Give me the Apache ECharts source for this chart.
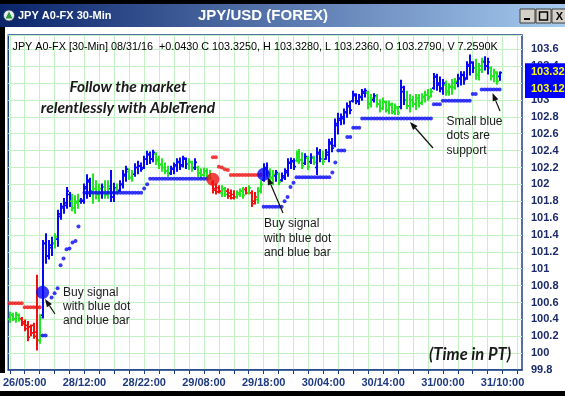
<!DOCTYPE html>
<html><head><meta charset="utf-8">
<script src="https://cdn.jsdelivr.net/npm/echarts@6/dist/echarts.min.js"></script>
<style>html,body{margin:0;padding:0;background:#fff;}#c{width:565px;height:396px;}</style>
</head><body><div id="c"></div>
<script>
// ---------- DATA ----------
const tickLabels = ['26/05:00','28/12:00','28/22:00','29/08:00','29/18:00','30/04:00','30/14:00','31/00:00','31/10:00'];
const tickLabelIndex = [5,25,45,65,85,105,125,145,165];
const slotCount = 172;

const opens = [100.40,100.45,100.40,100.45,100.41,100.37,100.33,100.31,100.33,100.25,
100.15,100.45,101.30,101.15,101.25,101.30,101.35,101.62,101.72,101.75,
101.88,101.80,101.72,101.78,101.80,101.80,101.95,102.03,101.92,101.95,
101.88,101.90,101.97,101.88,101.95,101.85,101.95,101.93,102.00,102.10,
102.15,102.08,102.12,102.20,102.22,102.20,102.30,102.35,102.30,102.36,
102.30,102.24,102.20,102.16,102.13,102.18,102.22,102.26,102.23,102.30,
102.24,102.26,102.20,102.20,102.14,102.11,102.15,102.10,102.02,101.95,
101.96,101.90,101.94,101.92,101.90,101.88,101.85,101.88,101.92,101.94,
101.90,101.90,101.80,101.82,101.92,102.05,102.18,102.14,102.08,102.10,
102.12,102.05,102.08,102.14,102.25,102.27,102.28,102.36,102.29,102.25,
102.31,102.27,102.31,102.20,102.36,102.30,102.30,102.35,102.48,102.46,
102.70,102.76,102.78,102.85,102.92,102.99,103.05,102.98,103.03,103.08,
103.08,102.96,103.00,103.04,102.95,102.90,102.97,102.88,102.94,102.86,
102.90,102.92,103.10,103.00,102.93,103.00,102.95,103.02,102.97,103.03,
103.06,103.04,103.14,103.27,103.20,103.14,103.18,103.10,103.15,103.15,
103.20,103.25,103.29,103.26,103.40,103.44,103.38,103.30,103.36,103.45,
103.40,103.38,103.28,103.32,103.279];
const highs = [100.48,100.47,100.48,100.46,100.42,100.39,100.37,100.33,100.35,100.92,
100.45,101.33,101.41,101.33,101.37,101.41,101.69,101.77,101.83,101.96,
101.90,101.88,101.86,101.88,101.83,102.00,102.11,102.07,102.12,102.04,
102.00,102.00,102.04,102.04,102.16,102.01,102.00,102.04,102.16,102.21,
102.18,102.16,102.24,102.27,102.25,102.33,102.39,102.38,102.40,102.37,
102.33,102.30,102.25,102.21,102.21,102.25,102.30,102.31,102.33,102.31,
102.30,102.27,102.30,102.21,102.18,102.19,102.18,102.16,102.04,102.00,
101.98,101.98,101.96,101.94,101.93,101.92,101.92,101.94,101.96,101.96,
101.98,101.92,101.90,101.96,102.04,102.24,102.25,102.18,102.16,102.16,
102.13,102.13,102.18,102.30,102.31,102.30,102.39,102.41,102.37,102.36,
102.33,102.36,102.33,102.43,102.41,102.39,102.41,102.53,102.54,102.77,
102.84,102.83,102.89,102.96,102.98,103.10,103.07,103.06,103.12,103.13,
103.10,103.06,103.07,103.06,103.00,103.02,102.98,102.98,102.96,102.95,
102.92,103.23,103.16,103.10,103.06,103.04,103.06,103.06,103.07,103.10,
103.12,103.13,103.31,103.30,103.27,103.24,103.22,103.19,103.24,103.25,
103.30,103.33,103.33,103.45,103.53,103.45,103.48,103.43,103.49,103.51,
103.49,103.39,103.36,103.33,103.328];
const lows = [100.37,100.39,100.37,100.38,100.33,100.27,100.15,100.21,100.18,100.04,
100.12,100.42,101.07,101.12,101.16,101.25,101.27,101.59,101.66,101.72,
101.74,101.69,101.66,101.72,101.78,101.78,101.84,101.86,101.78,101.83,
101.80,101.84,101.84,101.84,101.80,101.80,101.89,101.92,101.96,102.04,
102.06,102.04,102.10,102.13,102.16,102.19,102.24,102.25,102.27,102.24,
102.19,102.16,102.13,102.10,102.12,102.13,102.16,102.18,102.21,102.19,
102.18,102.16,102.18,102.10,102.08,102.10,102.07,102.06,101.90,101.89,
101.90,101.86,101.86,101.84,101.83,101.83,101.84,101.86,101.84,101.89,
101.89,101.74,101.77,101.78,101.90,102.04,102.10,102.04,102.00,102.04,
102.00,102.04,102.06,102.10,102.19,102.18,102.27,102.25,102.19,102.24,
102.18,102.25,102.24,102.12,102.27,102.24,102.30,102.27,102.39,102.45,
102.60,102.71,102.72,102.80,102.84,102.98,102.96,102.95,103.00,103.04,
102.90,102.92,102.98,102.92,102.86,102.89,102.86,102.84,102.84,102.83,
102.83,102.90,102.95,102.90,102.86,102.92,102.89,102.92,102.95,102.98,
103.00,103.04,103.13,103.12,103.10,103.07,103.06,103.06,103.07,103.13,
103.16,103.18,103.19,103.25,103.30,103.33,103.25,103.24,103.33,103.36,
103.31,103.24,103.22,103.19,103.236];
const closes = [100.45,100.41,100.46,100.40,100.35,100.29,100.19,100.24,100.20,100.15,
100.42,101.30,101.15,101.28,101.30,101.38,101.65,101.74,101.78,101.92,
101.80,101.72,101.80,101.82,101.81,101.97,102.05,101.92,101.95,101.88,
101.95,101.97,101.88,101.98,101.85,101.96,101.92,102.00,102.12,102.18,
102.08,102.12,102.20,102.22,102.18,102.30,102.36,102.30,102.38,102.28,
102.23,102.20,102.16,102.13,102.19,102.23,102.27,102.22,102.31,102.24,
102.27,102.19,102.26,102.13,102.11,102.16,102.09,102.07,101.93,101.91,
101.92,101.95,101.88,101.86,101.84,101.85,101.90,101.92,101.87,101.90,
101.96,101.77,101.85,101.93,102.00,102.20,102.14,102.08,102.12,102.14,
102.03,102.10,102.16,102.26,102.28,102.21,102.35,102.29,102.22,102.33,
102.21,102.32,102.26,102.38,102.30,102.27,102.38,102.50,102.43,102.72,
102.78,102.80,102.86,102.93,102.88,103.07,102.99,103.04,103.10,103.11,
102.95,103.02,103.05,102.95,102.90,102.98,102.88,102.95,102.86,102.92,
102.85,103.15,103.00,102.93,103.00,102.95,103.02,102.96,103.04,103.06,
103.02,103.10,103.28,103.18,103.13,103.20,103.10,103.16,103.20,103.22,
103.26,103.30,103.24,103.42,103.45,103.38,103.30,103.40,103.46,103.40,
103.45,103.28,103.33,103.22,103.325];
// trend colour per bar: g = neutral (green), r = down (red), b = up (blue)
const barTrend = ('gggg'+'rrrrrr'+'g'+'bbbb'+'g'+'bbbbb'+'ggg'+'bbbb'+'ggg'+'b'+'gg'+'bb'+'g'+'bbb'+'gg'+
  'bbbbbbb'+'ggggg'+'bbbbbb'+'gg'+'b'+'ggggg'+'rrr'+'gg'+'rrr'+'ggg'+'r'+'g'+'rr'+'gg'+'bb'+'gg'+'b'+'g'+
  'bbbbb'+'ggg'+'b'+'g'+'b'+'g'+'bb'+'g'+'bbbbbbbbbbbbbb'+'gg'+'b'+'gggggggg'+'bb'+'ggggggggg'+'bbbb'+
  'gggg'+'bbbbbb'+'ggg'+'bb'+'ggg'+'b').split('');

// small resistance (red) dots, one per bar, null = none
const redDots = [100.59,100.59,100.59,100.59,100.59,100.545,100.545,100.545,100.545,100.545,
100.545,null,null,null,null,null,null,null,null,null,
null,null,null,null,null,null,null,null,null,null,
null,null,null,null,null,null,null,null,null,null,
null,null,null,null,null,null,null,null,null,null,
null,null,null,null,null,null,null,null,null,null,
null,null,null,null,null,null,null,null,102.32,102.32,
102.21,102.20,102.18,102.17,102.11,102.11,102.11,102.11,102.11,102.11,
102.11,102.11,102.11,102.11,102.11];
// small support (blue) dots, one per bar, null = none
const blueDots = [null,null,null,null,null,null,null,null,null,null,
null,100.21,100.21,null,100.66,100.71,100.77,101.04,101.12,101.23,
101.24,101.31,101.33,101.50,null,101.90,101.90,101.90,101.90,101.90,
101.90,101.90,101.90,101.90,101.90,101.90,101.90,101.90,101.90,101.90,
101.90,101.90,101.90,101.90,101.90,101.95,102.00,102.065,102.065,102.065,
102.065,102.065,102.065,102.065,102.065,102.065,102.065,102.065,102.065,102.065,
102.065,102.065,102.065,102.065,102.065,102.065,102.065,null,null,null,
null,null,null,null,null,null,null,null,null,null,
null,null,null,null,null,101.735,101.735,101.735,101.735,101.735,
101.735,101.735,101.80,101.85,101.97,102.02,102.085,102.085,102.085,102.085,
102.085,102.085,102.085,102.085,102.085,102.085,102.085,102.085,102.14,102.26,
102.40,102.40,102.40,102.56,102.56,102.67,102.67,102.67,102.78,102.78,
102.78,102.78,102.78,102.78,102.78,102.78,102.78,102.78,102.78,102.78,
102.78,102.78,102.78,102.78,102.78,102.78,102.78,102.78,102.78,102.78,
102.78,102.78,102.95,102.95,102.95,102.99,102.99,102.99,102.99,102.99,
102.99,102.99,102.99,102.99,102.99,103.07,103.07,null,103.125,103.125,
103.125,103.125,103.125,103.125,103.125];
// big signal dots: [bar, price, trend]
const signalDots = [[11,100.72,'b'],[68,102.06,'r'],[85,102.12,'b']];
// price tags on the right axis
const priceTags = [{value:103.325, text:'103.32'},{value:103.125, text:'103.12'}];

// ---------- CHART ----------
const trendColor = {g:'#22e622', r:'#f01010', b:'#0808f8'};
const categories = [];
for (let i = 0; i < slotCount; i++) categories.push(String(i));

const ohlcData = opens.map((o, i) => [i, o, highs[i], lows[i], closes[i]]);
const toPoints = arr => arr.map((v, i) => v == null ? null : [i, v]).filter(p => p);

function arrow(x1, y1, x2, y2) {
  const dx = x2 - x1, dy = y2 - y1, len = Math.sqrt(dx*dx + dy*dy);
  const ux = dx/len, uy = dy/len, hl = 8, hw = 3;
  const bx = x2 - ux*hl, by = y2 - uy*hl;
  return [
    {type:'line', z:100, shape:{x1:x1, y1:y1, x2:bx, y2:by}, style:{stroke:'#111', lineWidth:1.2}},
    {type:'polygon', z:100, shape:{points:[[x2,y2],[bx - uy*hw, by + ux*hw],[bx + uy*hw, by - ux*hw]]}, style:{fill:'#111'}}
  ];
}
function txt(x, y, s, font, extra) {
  return {type:'text', z:100, x:x, y:y, style:Object.assign({text:s, font:font, fill:'#1a1a1a', textVerticalAlign:'middle'}, extra || {})};
}

const chart = echarts.init(document.getElementById('c'));
const graphics = [
  {type:'rect', z:50, shape:{x:0, y:0, width:565, height:4}, style:{fill:'#000'}},
  {type:'rect', z:50, shape:{x:0, y:4, width:565, height:23},
    style:{fill:new echarts.graphic.LinearGradient(0,0,1,0,[{offset:0,color:'#0a246a'},{offset:1,color:'#a6caf0'}])}},
  {type:'rect', z:50, shape:{x:0, y:27, width:5, height:346}, style:{fill:'#000'}},
  {type:'rect', z:50, shape:{x:0, y:391, width:565, height:5}, style:{fill:'#000'}},
  {type:'circle', z:51, shape:{cx:9, cy:15.5, r:5.5}, style:{fill:'#e8f0f0', stroke:'#335', lineWidth:0.8}},
  {type:'polygon', z:52, shape:{points:[[9,11.5],[12.5,18.5],[5.5,18.5]]}, style:{fill:'#2a9a3a'}},
  {type:'text', z:52, x:18, y:16, style:{text:'JPY A0-FX 30-Min', font:'bold 11px "Liberation Sans", Arial', fill:'#fff', textVerticalAlign:'middle'}},
  {type:'text', z:52, x:263, y:15.5, style:{text:'JPY/USD (FOREX)', font:'bold 15px "Liberation Sans", Arial', fill:'#fff', textAlign:'center', textVerticalAlign:'middle'}},
  {type:'rect', z:52, shape:{x:520, y:9, width:15, height:14}, style:{fill:'#d4d0c8', stroke:'#404040', lineWidth:1}},
  {type:'rect', z:52, shape:{x:536, y:9, width:15, height:14}, style:{fill:'#d4d0c8', stroke:'#404040', lineWidth:1}},
  {type:'rect', z:52, shape:{x:552, y:9, width:15, height:14}, style:{fill:'#d4d0c8', stroke:'#404040', lineWidth:1}},
  {type:'rect', z:53, shape:{x:524, y:18, width:6, height:2}, style:{fill:'#000'}},
  {type:'rect', z:53, shape:{x:539.5, y:12, width:8, height:8}, style:{fill:'none', stroke:'#000', lineWidth:1.5}},
  {type:'text', z:53, x:559.5, y:16.5, style:{text:'X', font:'bold 11px "Liberation Sans", Arial', fill:'#000', textAlign:'center', textVerticalAlign:'middle'}},
  txt(12.5, 47.5, 'JPY A0-FX [30-Min] 08/31/16  +0.0430 C 103.3250, H 103.3280, L 103.2360, O 103.2790, V 7.2590K', '10.8px "Liberation Sans", Arial', {fill:'#000'}),
  txt(128, 87, 'Follow the market', 'italic bold 15.5px Lato', {textAlign:'center'}),
  txt(128, 107.5, 'relentlessly with AbleTrend', 'italic bold 15.5px Lato', {textAlign:'center'}),
  txt(470, 355, '(Time in PT)', 'italic bold 16.5px Lato', {textAlign:'center'}),
  txt(63, 292.5, 'Buy signal', '12px "Liberation Sans", Arial'),
  txt(63, 306.5, 'with blue dot', '12px "Liberation Sans", Arial'),
  txt(63, 320.5, 'and blue bar', '12px "Liberation Sans", Arial'),
  txt(264, 224, 'Buy signal', '12px "Liberation Sans", Arial'),
  txt(264, 238.5, 'with blue dot', '12px "Liberation Sans", Arial'),
  txt(264, 253, 'and blue bar', '12px "Liberation Sans", Arial'),
  txt(446.5, 121.5, 'Small blue', '12px "Liberation Sans", Arial'),
  txt(446.5, 136, 'dots are', '12px "Liberation Sans", Arial'),
  txt(446.5, 150.5, 'support', '12px "Liberation Sans", Arial')
].concat(arrow(55,314,45,299), arrow(283,213,267.5,177), arrow(433,148,410,122), arrow(500,111,492.5,93));

const option = {
  backgroundColor:'#fff',
  animation:false,
  grid:{left:7, right:43, top:35, bottom:26, show:true, borderColor:'#1c3f8a', borderWidth:1.5, backgroundColor:'transparent'},
  xAxis:{
    type:'category', data:categories, boundaryGap:true,
    axisLine:{lineStyle:{color:'#1c3f8a', width:1.5}},
    axisTick:{show:true, alignWithLabel:true, interval:(i) => i % 5 === 0, length:4, lineStyle:{color:'#1c3f8a'}},
    axisLabel:{interval:(i) => tickLabelIndex.indexOf(i) >= 0,
      formatter:(v, i) => { const k = tickLabelIndex.indexOf(i); return k >= 0 ? tickLabels[k] : ''; },
      color:'#1f3a80', fontWeight:'bold', fontSize:11, fontFamily:'"Liberation Sans", Arial', margin:7},
    splitLine:{show:true, alignWithLabel:true, interval:(i) => i % 5 === 0, lineStyle:{color:'#c2f2c2', width:1}}
  },
  yAxis:{
    type:'value', position:'right', min:99.8, max:103.77, interval:0.2, scale:true,
    axisLine:{show:false}, axisTick:{show:false},
    axisLabel:{showMaxLabel:false, margin:9, color:'#1b2a6b', fontWeight:'bold', fontSize:11, fontFamily:'"Liberation Sans", Arial',
      formatter:(v) => String(Number(v.toFixed(1)))},
    splitLine:{show:true, lineStyle:{color:'#c2f2c2', width:1}}
  },
  series:[
    {
      type:'custom', clip:true, z:3, data:ohlcData,
      encode:{x:0, y:[1,2,3,4]},
      renderItem:function(params, api){
        const x = api.value(0);
        const pO = api.coord([x, api.value(1)]), pH = api.coord([x, api.value(2)]);
        const pL = api.coord([x, api.value(3)]), pC = api.coord([x, api.value(4)]);
        const cx = Math.round(pH[0]);
        const col = trendColor[barTrend[params.dataIndex]];
        return {type:'group', children:[
          {type:'line', shape:{x1:cx, y1:pH[1]-0.8, x2:cx, y2:pL[1]+0.8}, style:{stroke:col, lineWidth:2}},
          {type:'line', shape:{x1:cx-2, y1:pO[1], x2:cx, y2:pO[1]}, style:{stroke:col, lineWidth:1.7}},
          {type:'line', shape:{x1:cx, y1:pC[1], x2:cx+2, y2:pC[1]}, style:{stroke:col, lineWidth:1.7}}
        ]};
      }
    },
    {type:'scatter', z:4, symbol:'circle', symbolSize:4, itemStyle:{color:'#f01010'}, data:toPoints(redDots), silent:true},
    {type:'scatter', z:4, symbol:'circle', symbolSize:4, itemStyle:{color:'#0808f8'}, data:toPoints(blueDots), silent:true},
    {type:'line', z:6, data:[], silent:true, clip:false,
      markLine:{silent:true, symbol:'none', lineStyle:{color:'rgba(0,0,0,0)', width:0},
        data:priceTags.map(t => ({yAxis:t.value, label:{formatter:t.text}})),
        label:{show:true, position:'end', distance:3, color:'#ffff00', backgroundColor:'#0000ff', fontWeight:'bold', fontSize:11,
          fontFamily:'"Liberation Sans", Arial', padding:[3,8,3,6], lineHeight:12}}},
    {type:'scatter', z:5, symbol:'circle', symbolSize:13, silent:true,
      data:signalDots.map(d => ({value:[d[0], d[1]], itemStyle:{color:trendColor[d[2]]}}))}
  ],
  graphic:graphics
};
chart.setOption(option);
</script></body></html>
